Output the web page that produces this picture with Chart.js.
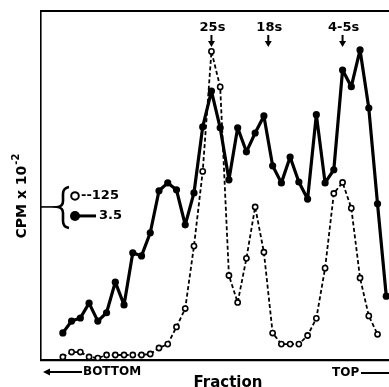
<!DOCTYPE html>
<html>
<head>
<meta charset="utf-8">
<script src="https://cdn.jsdelivr.net/npm/chart.js@4"></script>
<style>
html, body { margin: 0; padding: 0; overflow: hidden; background: #fff; }
#c { display: block; }
</style>
</head>
<body>
<canvas id="c" width="400" height="387" style="width:400px;height:387px"></canvas>
<script>
// Fraction numbers (bottom -> top of gradient)
const fractions = [1,2,3,4,5,6,7,8,9,10,11,12,13,14,15,16,17,18,19,20,21,22,23,24,25,26,27,28,29,30,31,32,33,34,35,36,37,38];
// 3.5 series (filled circles), CPM x 10^-2
const cpm35 = [0.62,0.89,0.96,1.30,0.89,1.08,1.78,1.26,2.45,2.38,2.91,3.87,4.05,3.89,3.09,3.82,5.33,6.15,5.31,4.12,5.31,4.76,5.19,5.58,4.44,4.05,4.64,4.07,3.68,5.61,4.05,4.35,6.63,6.25,7.09,5.76,3.57,1.46];
// 125 series (open circles), CPM x 10^-2
const cpm125 = [2.5,6.5,6.5,2.5,1.6,4.1,4.1,4.1,4.1,4.1,4.9,9.8,13,27,42,93,154,252,223,69,47,83,125,88,22,13,13,13,20,34,75,136,145,124,67,36,21];
// single y tick, read per series
const tick35 = [3.5];
const tick125 = [125];
// sedimentation markers
const markerLabels = ['25s', '18s', '4-5s'];
const markerFractions = [18, 24.5, 33];

const FONT = "'DejaVu Sans', 'Liberation Sans', Arial, sans-serif";

const annot = {
  id: 'annot',
  afterDraw(chart) {
    const ctx = chart.ctx;
    const xs = chart.scales.x, ys = chart.scales.y;
    const area = chart.chartArea;
    ctx.save();
    ctx.fillStyle = '#000';
    ctx.strokeStyle = '#000';

    // y tick at 3.5 / 125 and brace legend
    const ty = ys.getPixelForValue(tick35[0]);
    ctx.lineWidth = 1.6;
    ctx.beginPath();
    ctx.moveTo(area.left, ty);
    ctx.lineTo(58, ty);
    ctx.stroke();
    // brace
    ctx.lineWidth = 2.6;
    ctx.beginPath();
    ctx.moveTo(69, ty - 20);
    ctx.quadraticCurveTo(63, ty - 19, 63, ty - 13);
    ctx.lineTo(63, ty - 6);
    ctx.quadraticCurveTo(63, ty - 1, 58, ty);
    ctx.quadraticCurveTo(63, ty + 1, 63, ty + 6);
    ctx.lineTo(63, ty + 14);
    ctx.quadraticCurveTo(63, ty + 20, 69, ty + 21);
    ctx.stroke();
    // open circle legend
    ctx.lineWidth = 2;
    ctx.beginPath();
    ctx.arc(75, ty - 11, 3.8, 0, Math.PI * 2);
    ctx.fillStyle = '#fff';
    ctx.fill();
    ctx.stroke();
    ctx.fillStyle = '#000';
    ctx.font = 'bold 13px ' + FONT;
    ctx.textBaseline = 'middle';
    ctx.textAlign = 'left';
    ctx.fillText('--' + tick125[0], 81, ty - 11);
    // filled circle legend
    ctx.beginPath();
    ctx.arc(75, ty + 9, 5, 0, Math.PI * 2);
    ctx.fill();
    ctx.lineWidth = 3;
    ctx.beginPath();
    ctx.moveTo(75, ty + 9);
    ctx.lineTo(96, ty + 9);
    ctx.stroke();
    ctx.fillText(String(tick35[0]), 99, ty + 9);

    // y axis title
    ctx.save();
    ctx.translate(21, 196);
    ctx.rotate(-Math.PI / 2);
    ctx.textBaseline = 'middle';
    ctx.font = 'bold 14px ' + FONT;
    const main = 'CPM x 10';
    const mw = ctx.measureText(main).width;
    ctx.font = 'bold 10px ' + FONT;
    const sup = '-2';
    const sw = ctx.measureText(sup).width;
    const start = -(mw + sw + 1) / 2;
    ctx.textAlign = 'left';
    ctx.font = 'bold 14px ' + FONT;
    ctx.fillText(main, start, 1);
    ctx.font = 'bold 10px ' + FONT;
    ctx.fillText(sup, start + mw + 1, -5);
    ctx.restore();

    // top markers with arrows
    ctx.font = 'bold 13px ' + FONT;
    ctx.textAlign = 'center';
    ctx.textBaseline = 'alphabetic';
    markerLabels.forEach((lab, i) => {
      const px = xs.getPixelForValue(markerFractions[i]);
      ctx.fillText(lab, px + 1, 31);
      ctx.lineWidth = 2;
      ctx.beginPath();
      ctx.moveTo(px, 35);
      ctx.lineTo(px, 42);
      ctx.stroke();
      ctx.beginPath();
      ctx.moveTo(px - 3.5, 41);
      ctx.lineTo(px + 3.5, 41);
      ctx.lineTo(px, 47);
      ctx.closePath();
      ctx.fill();
    });

    // bottom labels
    ctx.font = 'bold 12px ' + FONT;
    ctx.textBaseline = 'middle';
    ctx.textAlign = 'left';
    ctx.fillText('BOTTOM', 83, 372);
    ctx.lineWidth = 2;
    ctx.beginPath();
    ctx.moveTo(48, 372);
    ctx.lineTo(82, 372);
    ctx.stroke();
    ctx.beginPath();
    ctx.moveTo(43, 372);
    ctx.lineTo(50, 368.5);
    ctx.lineTo(50, 375.5);
    ctx.closePath();
    ctx.fill();

    ctx.fillText('TOP', 332, 373);
    ctx.beginPath();
    ctx.moveTo(361, 373);
    ctx.lineTo(400, 373);
    ctx.stroke();

    ctx.font = 'bold 15px ' + FONT;
    ctx.textAlign = 'center';
    ctx.textBaseline = 'alphabetic';
    ctx.fillText('Fraction', 228, 387);
    ctx.restore();
  }
};

const pts35 = fractions.map((f, i) => ({ x: f, y: cpm35[i] }));
const pts125 = cpm125.map((v, i) => ({ x: fractions[i], y: v }));

new Chart(document.getElementById('c'), {
  type: 'line',
  data: {
    datasets: [
      {
        label: '125',
        data: pts125,
        yAxisID: 'y2',
        borderColor: '#000',
        borderWidth: 1.8,
        borderDash: [4, 2.5],
        borderJoinStyle: 'round',
        pointRadius: 2.6,
        pointBorderWidth: 1.6,
        pointBackgroundColor: '#fff',
        pointBorderColor: '#000',
        tension: 0,
        fill: false
      },
      {
        label: '3.5',
        data: pts35,
        yAxisID: 'y',
        borderColor: '#000',
        borderWidth: 3.2,
        borderJoinStyle: 'round',
        pointRadius: 3.6,
        pointBorderWidth: 0,
        pointBackgroundColor: '#000',
        pointBorderColor: '#000',
        tension: 0,
        fill: false
      }
    ]
  },
  options: {
    responsive: false,
    animation: false,
    devicePixelRatio: 1,
    layout: { padding: { left: 41, top: 11, right: 4, bottom: 27 } },
    plugins: { legend: { display: false }, tooltip: { enabled: false } },
    scales: {
      x: {
        type: 'linear',
        position: 'bottom',
        min: -1.5,
        max: 38.93,
        grid: { display: false, drawTicks: false, tickLength: 0 },
        border: { display: true, color: '#000', width: 2.2 },
        ticks: { display: false }
      },
      xTop: {
        type: 'linear',
        position: 'top',
        min: -1.5,
        max: 38.93,
        grid: { display: false, drawTicks: false, tickLength: 0 },
        border: { display: true, color: '#000', width: 2 },
        ticks: { display: false }
      },
      y: {
        type: 'linear',
        position: 'left',
        min: 0,
        max: 7.98,
        grid: { display: false, drawTicks: false, tickLength: 0 },
        border: { display: true, color: '#000', width: 1.6 },
        ticks: { display: false }
      },
      y2: {
        type: 'linear',
        position: 'right',
        display: false,
        min: 0,
        max: 285
      }
    }
  },
  plugins: [annot]
});
</script>
</body>
</html>
